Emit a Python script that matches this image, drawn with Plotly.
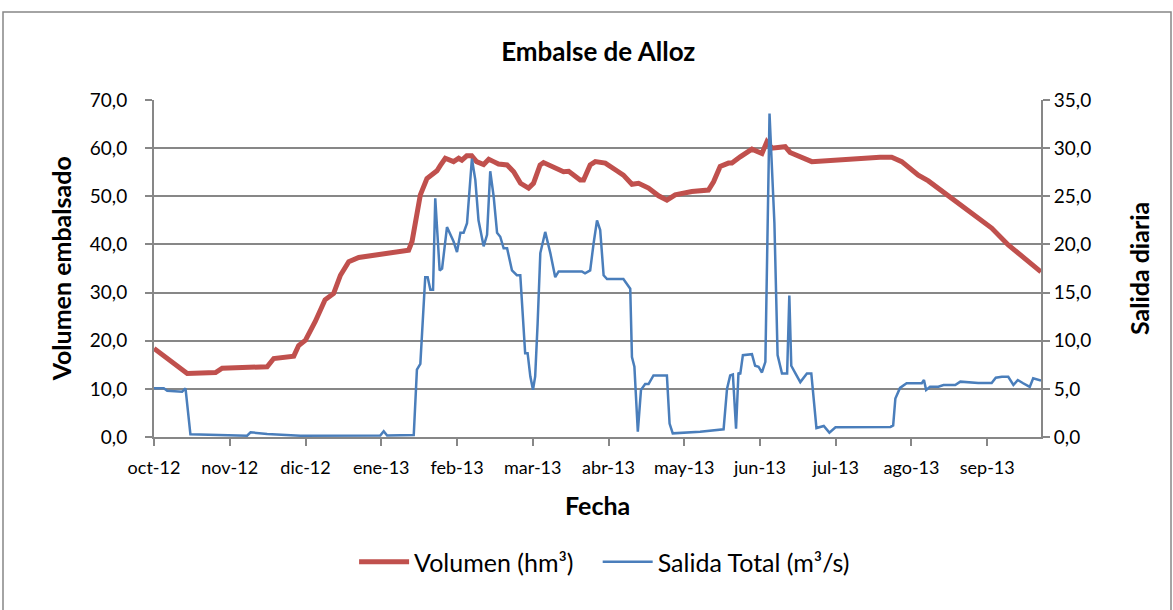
import datetime as dt
import plotly.graph_objects as go

# ---------------- data ----------------
base_date = dt.datetime(2012, 10, 1)

tick_days = [0, 31, 62, 93, 124, 155, 186, 217, 248, 279, 310, 341]
tick_labels = ["oct-12", "nov-12", "dic-12", "ene-13", "feb-13", "mar-13",
               "abr-13", "may-13", "jun-13", "jul-13", "ago-13", "sep-13"]

vol_day = [0, 13.6, 25.2, 27.9, 46.3, 49, 57.2, 59.2, 62, 66, 70, 73.5, 76.3, 79.7, 83.8,
           93.3, 104.2, 105.6, 109, 111.7, 115.8, 117.2, 119.2, 122.6, 124.7, 126, 128, 130,
           132, 134.9, 137, 139, 141, 144.5, 147.2, 150, 153.3, 155.3, 158, 159.4, 164.9,
           167.6, 169.7, 174.4, 175.8, 178.5, 180.6, 184.7, 189.4, 192.1, 195.6, 198.3,
           202.4, 206.5, 209.9, 213.3, 220.1, 226.9, 229, 231.7, 235.1, 236.5, 239.9, 244.7,
           248.8, 250.8, 252.8, 258.3, 260.3, 265.1, 269.2, 297.1, 301.9, 306, 312.8, 316.9,
           329.2, 342.8, 349.6, 363]
vol_val = [18.4, 13.2, 13.4, 14.3, 14.6, 16.3, 16.8, 19.0, 20.1, 24.0, 28.5, 29.8, 33.6, 36.4,
           37.3, 37.9, 38.8, 40.6, 50.3, 53.7, 55.3, 56.4, 57.9, 57.2, 57.9, 57.5, 58.4, 58.4,
           57.2, 56.6, 57.7, 57.2, 56.7, 56.5, 55.1, 52.7, 51.7, 52.7, 56.5, 57.0, 55.7, 55.1,
           55.2, 53.4, 53.4, 56.5, 57.2, 56.9, 55.3, 54.4, 52.5, 52.7, 51.7, 50.1, 49.2, 50.3,
           51.0, 51.3, 53.0, 56.2, 56.9, 56.9, 58.2, 59.8, 58.9, 61.3, 60.0, 60.3, 59.1, 58.2,
           57.2, 58.1, 58.1, 57.2, 54.4, 53.2, 48.5, 43.4, 39.9, 34.3]

sal_day = [0, 4, 5.4, 11.5, 12.9, 14.9, 38.1, 39.5, 46.3, 53.1,
           59.9, 92.6, 94, 95.4, 106.3, 107.6, 109, 111, 112, 113.1,
           114.2, 115.1, 116.9, 117.9, 119.9, 122.6, 124, 125.4, 126.7, 128.1,
           130.1, 131.5, 132.8, 134.9, 136.3, 137.6, 139, 140.4, 141.7, 143.1,
           144.5, 146.5, 148.5, 149.9, 150.6, 151.9, 152.9, 154, 155.1, 156,
           157, 158.1, 160.1, 162.2, 164.2, 165.6, 171.7, 175.1, 176.4, 178.5,
           179.9, 181.3, 182.6, 184, 185.4, 192.1, 194.9, 195.6, 196.6, 198,
           199.3, 201, 202.4, 204.4, 209.9, 211, 212.3, 219.4, 223.5, 233.1,
           234.5, 235.8, 236.9, 238.2, 239.2, 239.9, 241, 244.7, 246, 247.4,
           248.8, 250.2, 251.9, 253.9, 255.2, 257, 259.1, 260, 260.8, 262.5,
           264.5, 267.2, 269, 271.1, 274.1, 276.4, 278.9, 301.4, 302.5, 303.4,
           305.3, 308, 314.2, 315.1, 316, 317.6, 321, 323.1, 327.9, 330,
           337.3, 342.8, 344.5, 347, 349.6, 351.7, 353.5, 355.7, 358.4, 359.8,
           363]
sal_val = [5.06, 5.06, 4.8, 4.7, 5.06, 0.28, 0.14, 0.49, 0.31, 0.2,
           0.14, 0.15, 0.6, 0.15, 0.2, 7.0, 7.6, 16.6, 16.6, 15.3,
           15.3, 24.8, 17.3, 17.5, 21.8, 20.3, 19.2, 21.2, 21.2, 22.2,
           28.9, 26.7, 22.5, 19.8, 21.0, 27.6, 25.0, 21.2, 20.8, 19.6,
           19.6, 17.3, 16.8, 16.8, 13.9, 8.7, 8.7, 6.3, 4.9, 6.3,
           11.8, 19.1, 21.3, 19.1, 16.6, 17.2, 17.2, 17.2, 17.0, 17.3,
           20.1, 22.5, 21.5, 16.8, 16.4, 16.4, 15.4, 8.3, 7.3, 0.55,
           4.9, 5.5, 5.5, 6.4, 6.4, 1.4, 0.38, 0.45, 0.55, 0.8,
           5.0, 6.4, 6.5, 0.86, 6.7, 6.5, 8.5, 8.6, 7.4, 7.3,
           6.7, 7.8, 33.6, 22.2, 8.5, 6.6, 6.6, 14.7, 7.4, 6.6,
           5.7, 6.6, 6.6, 0.93, 1.14, 0.45, 1.0, 1.05, 1.2, 4.0,
           5.1, 5.58, 5.58, 5.92, 4.88, 5.22, 5.22, 5.4, 5.4, 5.75,
           5.6, 5.6, 6.16, 6.26, 6.26, 5.4, 5.92, 5.58, 5.2, 6.1,
           5.85]

# ---------------- figure ----------------
def to_date(d):
    return base_date + dt.timedelta(days=d)

FONT = "Lato"
GRID = "#878787"
NBSP = "\u00a0"

fig = go.Figure()
fig.add_trace(go.Scatter(
    x=[to_date(d) for d in vol_day], y=vol_val, name="Volumen (hm³)" + NBSP * 3,
    mode="lines", line=dict(color="#C0504D", width=5), yaxis="y"))
fig.add_trace(go.Scatter(
    x=[to_date(d) for d in sal_day], y=sal_val, name="Salida Total (m³/s)",
    mode="lines", line=dict(color="#4A7EBB", width=2.5), yaxis="y2"))

fig.update_layout(
    width=1173, height=610,
    margin=dict(l=154, r=132, t=100, b=173, autoexpand=False),
    paper_bgcolor="white", plot_bgcolor="white",
    separators=",.",
    font=dict(family=FONT, color="black", size=20),
    title=dict(text="<b>Embalse de Alloz</b>", x=0.51, xanchor="center",
               y=1 - 52 / 610, yanchor="middle", font=dict(size=26, family=FONT)),
    xaxis=dict(
        type="date", range=[to_date(0), to_date(363)],
        tickvals=[to_date(d) for d in tick_days], ticktext=tick_labels,
        tickfont=dict(size=18), ticks="outside", ticklen=7, tickwidth=2,
        ticklabelstandoff=6,
        tickcolor=GRID, showline=True, linecolor=GRID, linewidth=2,
        showgrid=False, zeroline=False),
    yaxis=dict(
        range=[0, 70], dtick=10, tickformat=".1f", tickfont=dict(size=19),
        ticks="outside", ticklen=7, tickwidth=2, tickcolor=GRID,
        ticklabelstandoff=14,
        showline=True, linecolor=GRID, linewidth=2,
        showgrid=True, gridcolor=GRID, gridwidth=2, zeroline=False),
    yaxis2=dict(
        range=[0, 35], dtick=5, tickformat=".1f", tickfont=dict(size=19),
        overlaying="y", side="right", ticks="outside", ticklen=7, tickwidth=2,
        tickcolor=GRID, showline=True, linecolor=GRID, linewidth=2,
        showgrid=False, zeroline=False),
    legend=dict(orientation="h", x=0.508, xanchor="center", y=-0.371, yanchor="middle",
                font=dict(size=25), bgcolor="rgba(0,0,0,0)", itemwidth=50),
    showlegend=True,
)

# axis titles
fig.add_annotation(text="<b>Fecha</b>", xref="paper", yref="paper", x=0.5, y=-0.202,
                   xanchor="center", yanchor="middle", showarrow=False, font=dict(size=25))
fig.add_annotation(text="<b>Volumen embalsado</b>", xref="paper", yref="paper",
                   x=-0.105, y=0.50, xanchor="center", yanchor="middle",
                   textangle=-90, showarrow=False, font=dict(size=25))
fig.add_annotation(text="<b>Salida diaria</b>", xref="paper", yref="paper",
                   x=1.110, y=0.50, xanchor="center", yanchor="middle",
                   textangle=-90, showarrow=False, font=dict(size=25))

# outer chart frame
fig.add_shape(type="rect", xref="paper", yref="paper",
              x0=(3 - 154) / 887, x1=(1171 - 154) / 887,
              y0=(437 - 640) / 337, y1=(437 - 12) / 337,
              line=dict(color=GRID, width=1.5), layer="below")

fig.write_html("out.html", config={"displayModeBar": False},
               post_script="document.body.style.margin='0';"
                           "document.documentElement.style.overflow='hidden';")
